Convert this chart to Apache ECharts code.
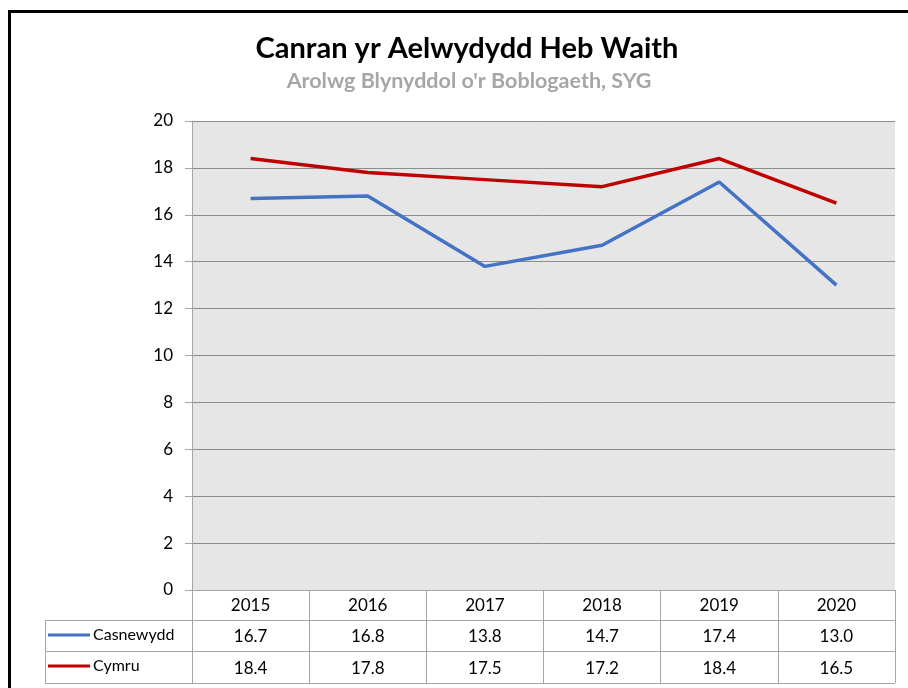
<!DOCTYPE html>
<html>
<head>
<meta charset="utf-8">
<script src="https://cdn.jsdelivr.net/npm/echarts@6/dist/echarts.min.js"></script>
<style>
  html, body { margin: 0; padding: 0; background: #fff; }
  #chart { width: 908px; height: 688px; }
</style>
</head>
<body>
<div id="chart"></div>
<script>
// data
const years = ['2015', '2016', '2017', '2018', '2019', '2020'];
const casnewydd = [16.7, 16.8, 13.8, 14.7, 17.4, 13.0];
const cymru = [18.4, 17.8, 17.5, 17.2, 18.4, 16.5];
const seriesNames = ['Casnewydd', 'Cymru'];

const FONT = 'Lato, "Open Sans", sans-serif';
const gridLeft = 192, gridRight = 13, gridTop = 121, gridBottom = 98;
const tableLeft = 45;
const lineGray = '#a6a6a6';

const chart = echarts.init(document.getElementById('chart'));

// 表格的横线
const tableLines = [620, 651, 683].map(y => ({
    type: 'line',
    shape: { x1: tableLeft, y1: y + 0.5, x2: 908 - gridRight, y2: y + 0.5 },
    style: { stroke: lineGray, lineWidth: 1 }
}));

const option = {
    backgroundColor: '#fff',
    title: [{
        text: 'Canran yr Aelwydydd Heb Waith',
        left: 462, textAlign: 'center', top: 29,
        textStyle: { fontFamily: FONT, fontSize: 29, fontWeight: 'bold', color: '#000' }
    }, {
        text: "Arolwg Blynyddol o'r Boblogaeth, SYG",
        left: 464, textAlign: 'center', top: 65,
        textStyle: { fontFamily: FONT, fontSize: 21.5, fontWeight: 'bold', color: '#a6a6a6' }
    }],
    legend: {
        orient: 'vertical',
        left: 48, top: 627,
        padding: 0,
        itemGap: 15,
        itemWidth: 42, itemHeight: 3,
        icon: 'rect',
        data: seriesNames,
        textStyle: { fontFamily: FONT, fontSize: 16, color: '#000', padding: [0, 0, 0, -2] }
    },
    grid: {
        left: gridLeft, right: gridRight, top: gridTop, bottom: gridBottom,
        show: true, backgroundColor: '#e6e6e6', borderWidth: 0
    },
    xAxis: {
        type: 'category',
        data: years,
        boundaryGap: true,
        axisLine: { show: true, lineStyle: { color: lineGray, width: 1 } },
        axisTick: { show: true, alignWithLabel: false, length: 93, lineStyle: { color: lineGray } },
        axisLabel: {
            margin: 0,
            formatter: function (v, i) {
                return '{y|' + v + '}\n{v|' + casnewydd[i].toFixed(1) + '}\n{v|' + cymru[i].toFixed(1) + '}';
            },
            rich: {
                y: { fontFamily: FONT, fontSize: 17, color: '#000', lineHeight: 31 },
                v: { fontFamily: FONT, fontSize: 17, color: '#000', lineHeight: 31.5 }
            }
        }
    },
    yAxis: {
        type: 'value',
        min: 0, max: 20, interval: 2,
        axisLine: { show: true, lineStyle: { color: lineGray } },
        axisTick: { show: true, length: 7, lineStyle: { color: lineGray } },
        axisLabel: { fontFamily: FONT, fontSize: 17, color: '#000', margin: 19 },
        splitLine: { lineStyle: { color: '#8c8c8c', width: 1 } }
    },
    series: [{
        name: seriesNames[0],
        type: 'line',
        data: casnewydd,
        showSymbol: false,
        lineStyle: { width: 3.5, color: '#4472c4' },
        itemStyle: { color: '#4472c4' }
    }, {
        name: seriesNames[1],
        type: 'line',
        data: cymru,
        showSymbol: false,
        lineStyle: { width: 3.5, color: '#c00000' },
        itemStyle: { color: '#c00000' }
    }],
    graphic: tableLines.concat([{
        type: 'line',
        shape: { x1: tableLeft + 0.5, y1: 620, x2: tableLeft + 0.5, y2: 683 },
        style: { stroke: lineGray, lineWidth: 1 }
    }, {
        // 外框
        type: 'rect',
        shape: { x: 9.5, y: 11.5, width: 1000, height: 1000 },
        style: { fill: null, stroke: '#000', lineWidth: 3 }
    }])
};

chart.setOption(option);
</script>
</body>
</html>
